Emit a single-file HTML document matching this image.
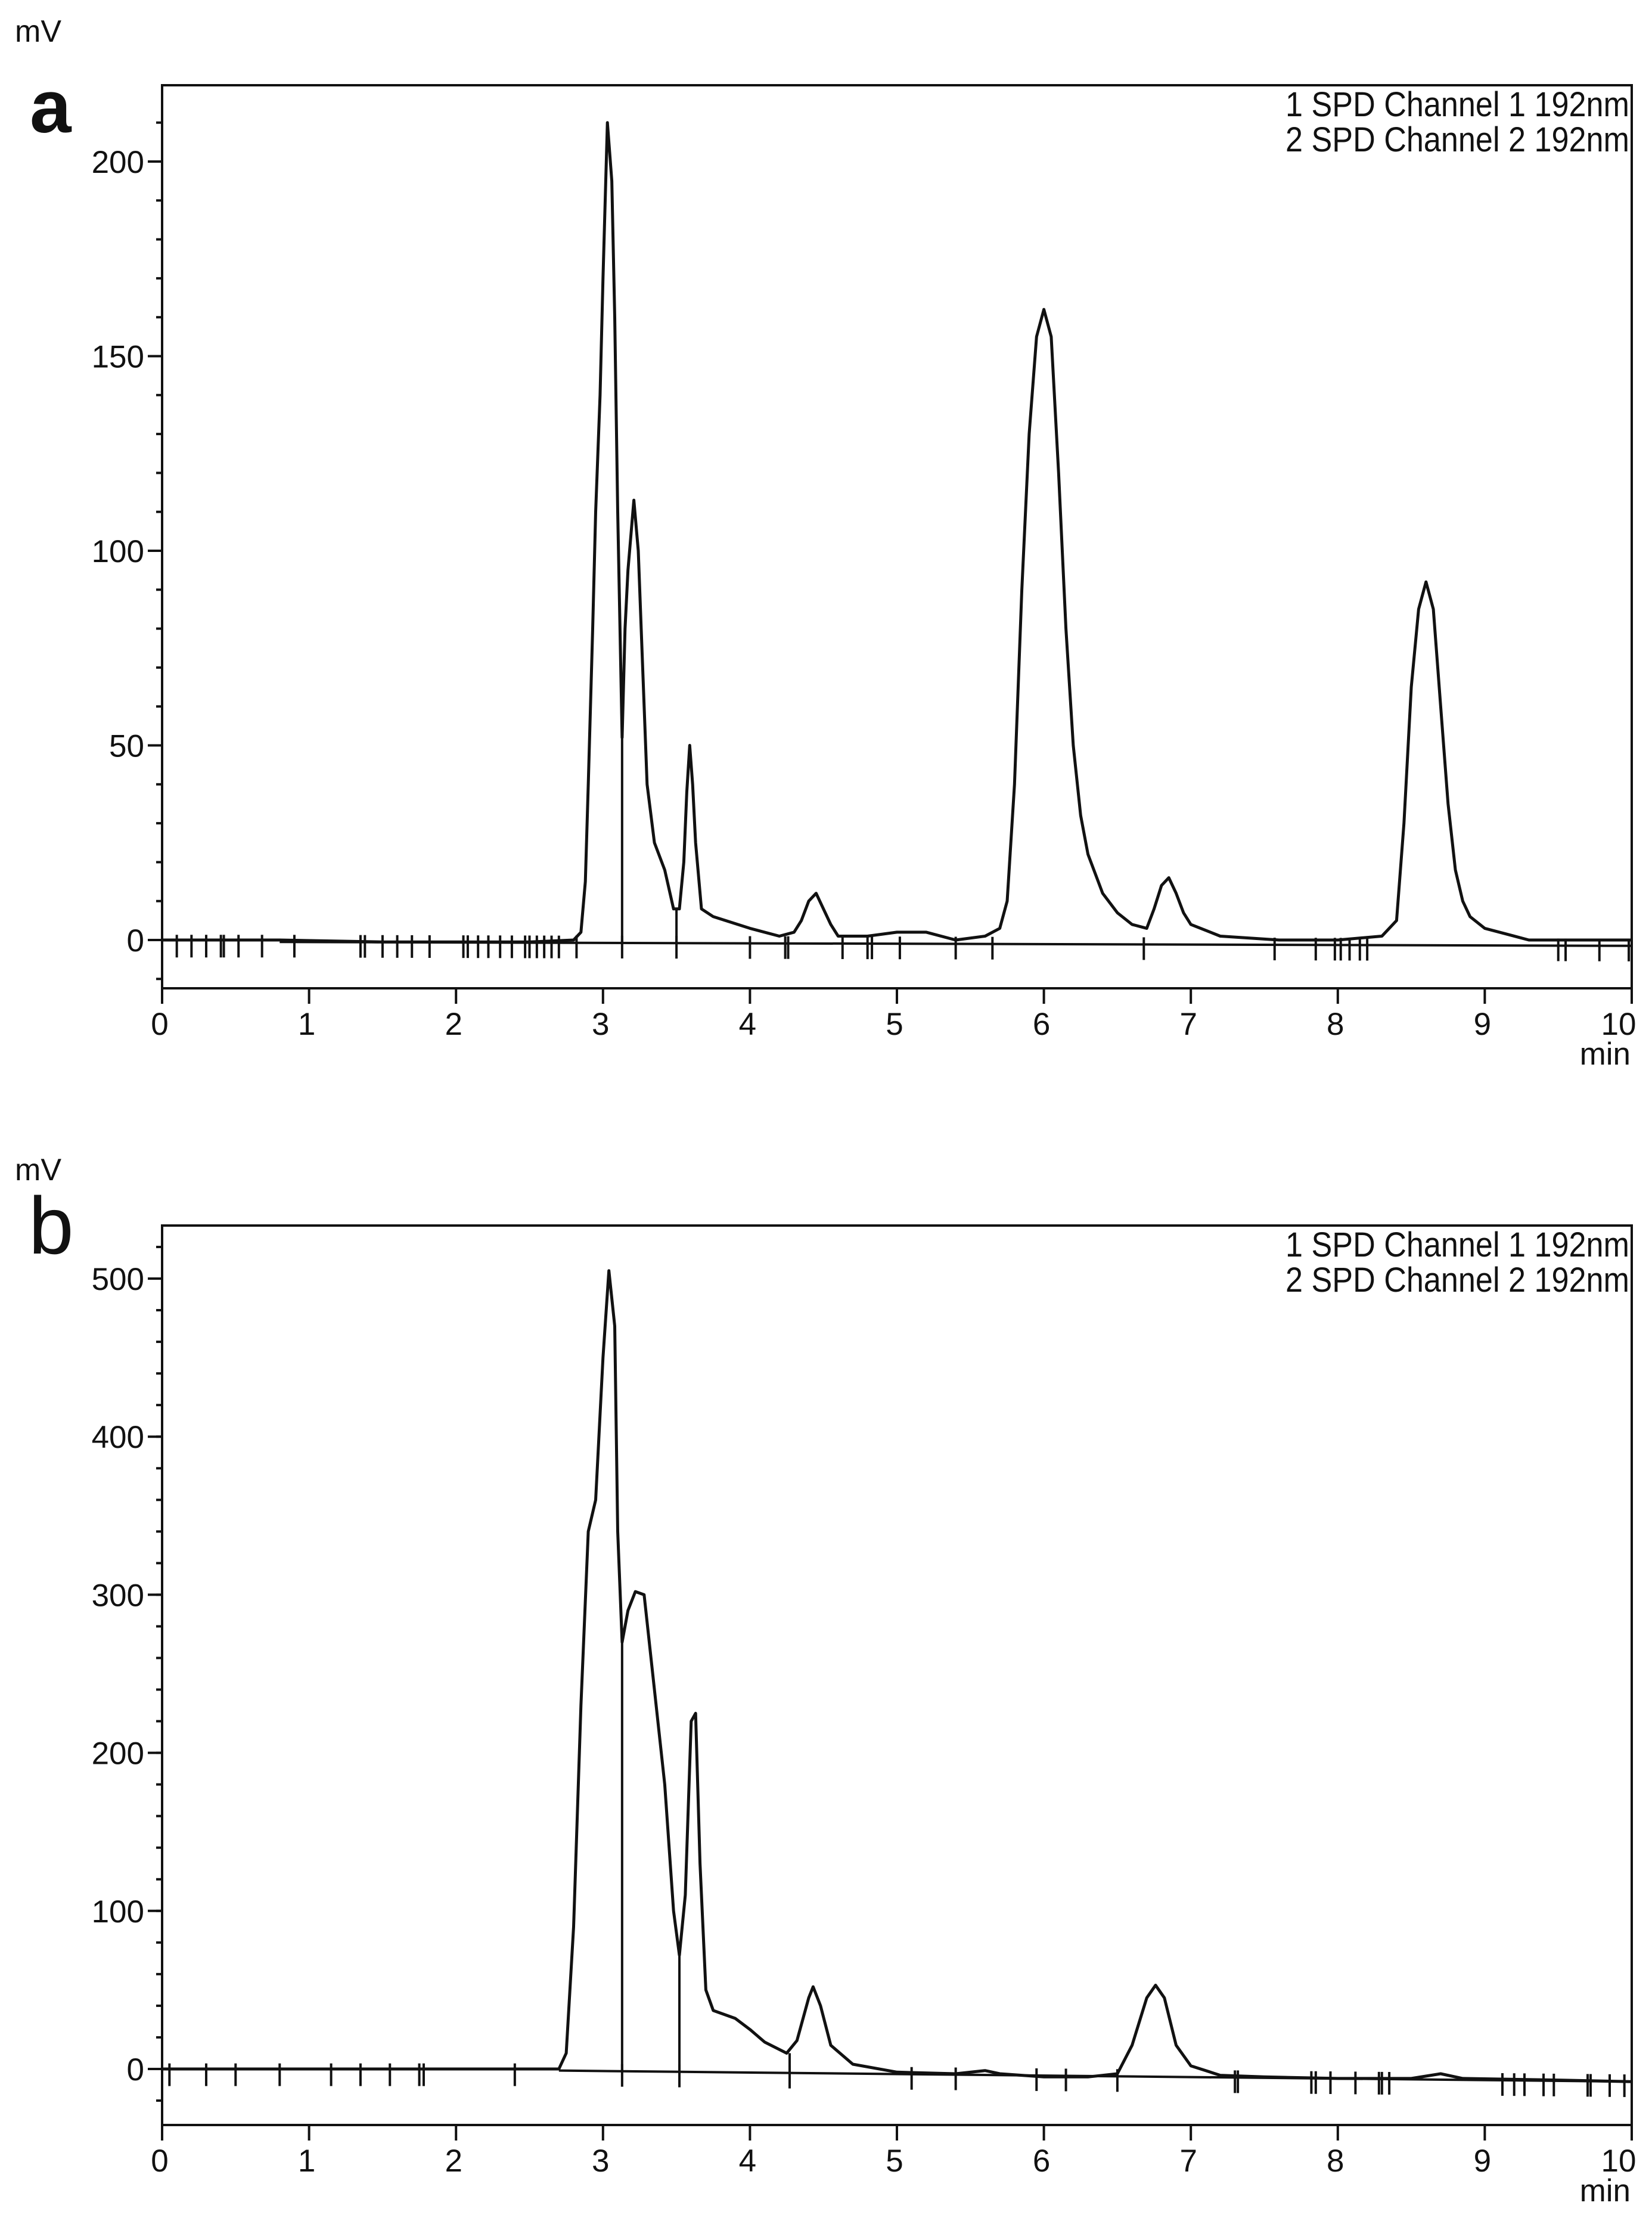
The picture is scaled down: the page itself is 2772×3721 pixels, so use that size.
<!DOCTYPE html>
<html><head><meta charset="utf-8"><style>
html,body{margin:0;padding:0;background:#fff}
svg{display:block}
text{font-family:"Liberation Sans",Arial,sans-serif;fill:#111}
</style></head><body>
<svg id="chart" width="2772" height="3721" viewBox="0 0 2772 3721" xmlns="http://www.w3.org/2000/svg"></svg>
<script>
// ---- Panel a data ----
const aTimes = [0,0.8,1.5,2.5,2.8,2.85,2.88,2.9,2.93,2.95,2.98,3.0,3.03,3.06,3.08,3.1,3.13,3.15,3.17,3.21,3.24,3.26,3.3,3.35,3.42,3.48,3.52,3.55,3.57,3.59,3.61,3.63,3.67,3.75,4.0,4.2,4.3,4.35,4.4,4.45,4.5,4.55,4.6,4.8,5.0,5.2,5.4,5.6,5.7,5.75,5.8,5.85,5.9,5.95,6.0,6.05,6.1,6.15,6.2,6.25,6.3,6.4,6.5,6.6,6.7,6.75,6.8,6.85,6.9,6.95,7.0,7.2,7.6,8.0,8.3,8.4,8.45,8.5,8.55,8.6,8.65,8.7,8.75,8.8,8.85,8.9,9.0,9.1,9.3,10];
const aValues = [0,0,-0.5,-0.5,0,2,15,40,80,110,140,170,210,195,160,110,52,80,95,113,100,80,40,25,18,8,8,20,38,50,40,25,8,6,3,1,2,5,10,12,8,4,1,1,2,2,0,1,3,10,40,90,130,155,162,155,120,80,50,32,22,12,7,4,3,8,14,16,12,7,4,1,0,0,1,5,30,65,85,92,85,60,35,18,10,6,3,2,0,0];
const aMarkers = [0.1,0.2,0.3,0.4,0.42,0.52,0.68,0.9,1.35,1.38,1.5,1.6,1.7,1.82,2.05,2.08,2.15,2.22,2.3,2.38,2.47,2.5,2.55,2.6,2.65,2.7,2.82,3.13,3.5,4.0,4.24,4.26,4.63,4.8,4.83,5.02,5.4,5.65,6.68,7.57,7.85,7.98,8.02,8.08,8.15,8.2,9.5,9.55,9.78,9.98];
const aDrops = [3.13,3.5];
const aDropValues = [52,8];
const aYTicks = [0,50,100,150,200];
// ---- Panel b data ----
const bTimes = [0,2.7,2.75,2.8,2.85,2.9,2.95,3.0,3.04,3.08,3.1,3.13,3.17,3.22,3.28,3.35,3.42,3.48,3.52,3.56,3.6,3.63,3.66,3.7,3.75,3.9,4.0,4.1,4.25,4.32,4.4,4.43,4.48,4.55,4.7,5.0,5.4,5.6,5.7,6.0,6.3,6.5,6.6,6.7,6.76,6.82,6.9,7.0,7.2,7.5,8.0,8.5,8.7,8.85,9.5,10];
const bValues = [0,0,10,90,230,340,360,450,505,470,340,270,290,302,300,240,180,100,72,110,220,225,130,50,37,32,25,17,10,18,45,52,40,15,3,-2,-3,-1,-3,-5,-5,-3,15,45,53,45,15,2,-4,-5,-6,-6,-3,-6,-7,-8];
const bMarkers = [0.05,0.3,0.5,0.8,1.15,1.35,1.55,1.75,1.78,2.4,3.13,3.52,4.27,5.1,5.4,5.95,6.15,6.5,7.3,7.32,7.82,7.85,7.95,8.12,8.28,8.3,8.35,9.12,9.2,9.27,9.4,9.47,9.7,9.72,9.85,9.95];
const bDrops = [3.13,3.52,4.27];
const bDropValues = [270,72,10];
const bYTicks = [0,100,200,300,400,500];
const xTicks = [0,1,2,3,4,5,6,7,8,9,10];
const legendLines = ["1 SPD Channel 1 192nm","2 SPD Channel 2 192nm"];

const NS="http://www.w3.org/2000/svg";
const svg=document.getElementById('chart');
function mk(tag,attrs,parent){const e=document.createElementNS(NS,tag);for(const k in attrs)e.setAttribute(k,attrs[k]);(parent||svg).appendChild(e);return e;}

function panel(cfg){
  const g=mk('g',{});
  
  
  const L=272,R=2738,T=cfg.top,B=cfg.bottom;
  const xs=t=>L+(R-L)*t/10;
  const ys=v=>cfg.y0+(cfg.yRef-cfg.y0)*v/cfg.vRef;
  const fr=mk('rect',{x:L,y:T,width:R-L,height:B-T,fill:'none',stroke:'#111','stroke-width':4},g);
  
  
  for(let v=cfg.minorStart;v<=cfg.minorEnd;v+=cfg.minorStep){
    const y=ys(v); if(y<T||y>B)continue;
    const t=mk('line',{x1:L-10,x2:L,y1:y,y2:y,stroke:'#111','stroke-width':4},g);
    
    
  }
  cfg.yTicks.forEach(v=>{
    const y=ys(v);
    const t=mk('line',{x1:L-24,x2:L,y1:y,y2:y,stroke:'#111','stroke-width':4},g);
    
    
    const tx=mk('text',{x:L-30,y:y+19,'font-size':53,'text-anchor':'end'},g);
    tx.textContent=v;
    
    
  });
  xTicks.forEach(v=>{
    const x=xs(v);
    const t=mk('line',{x1:x,x2:x,y1:B,y2:B+26,stroke:'#111','stroke-width':4},g);
    
    
    const tx=mk('text',{x:v===10?x-22:x-4,y:B+78,'font-size':53,'text-anchor':'middle'},g);
    tx.textContent=v;
    
    
  });
  const mn=mk('text',{x:R-2,y:B+128,'font-size':53,'text-anchor':'end'},g);
  mn.textContent='min';
  
  
  const mv=mk('text',{x:25,y:cfg.mvY,'font-size':52},g);
  mv.textContent='mV';
  
  
  const lab=mk('text',{x:cfg.labX,y:cfg.labY,'font-size':cfg.labSize,'font-weight':cfg.labWeight},g);
  lab.textContent=cfg.label;
  
  
  legendLines.forEach((s,i)=>{
    const tx=mk('text',{x:R-4,y:T+52+i*59,'font-size':58,'text-anchor':'end',textLength:577,lengthAdjust:'spacingAndGlyphs'},g);
    tx.textContent=s;
    
    
  });
  const bl=mk('line',{x1:xs(cfg.baseStart),y1:ys(cfg.baseV0),x2:xs(10),y2:ys(cfg.baseV1),stroke:'#111','stroke-width':4},g);
  
  
  cfg.drops.forEach((t,i)=>{
    const d=mk('line',{x1:xs(t),x2:xs(t),y1:ys(cfg.dropVals[i]),y2:ys(cfg.baseV0+(cfg.baseV1-cfg.baseV0)*(t-cfg.baseStart)/(10-cfg.baseStart)),stroke:'#111','stroke-width':4},g);
    
    
  });
  cfg.markers.forEach(t=>{
    const bv=cfg.baseV0+(cfg.baseV1-cfg.baseV0)*Math.max(0,t-cfg.baseStart)/(10-cfg.baseStart);
    const y=ys(bv);
    const m=mk('line',{x1:xs(t),x2:xs(t),y1:y-12,y2:y+26,stroke:'#111','stroke-width':4},g);
    
    
  });
  const pts=cfg.times.map((t,i)=>xs(t).toFixed(1)+','+ys(cfg.values[i]).toFixed(1)).join(' ');
  const pl=mk('polyline',{points:pts,fill:'none',stroke:'#111','stroke-width':5,'stroke-linejoin':'round'},g);
  
  
}

panel({name:'panel-a',top:143,bottom:1658,y0:1577,yRef:271,vRef:200,yTicks:aYTicks,
  minorStart:-10,minorEnd:210,minorStep:10,times:aTimes,values:aValues,markers:aMarkers,
  drops:aDrops,dropVals:aDropValues,baseStart:0.8,baseV0:-0.5,baseV1:-1.5,
  mvY:70,label:'a',labX:50,labY:222,labSize:125,labWeight:'bold'});
panel({name:'panel-b',top:2056,bottom:3565,y0:3471,yRef:2145,vRef:500,yTicks:bYTicks,
  minorStart:-20,minorEnd:520,minorStep:20,times:bTimes,values:bValues,markers:bMarkers,
  drops:bDrops,dropVals:bDropValues,baseStart:2.7,baseV0:-1,baseV1:-8,
  mvY:1980,label:'b',labX:48,labY:2103,labSize:136,labWeight:'normal'});
</script>
</body></html>
